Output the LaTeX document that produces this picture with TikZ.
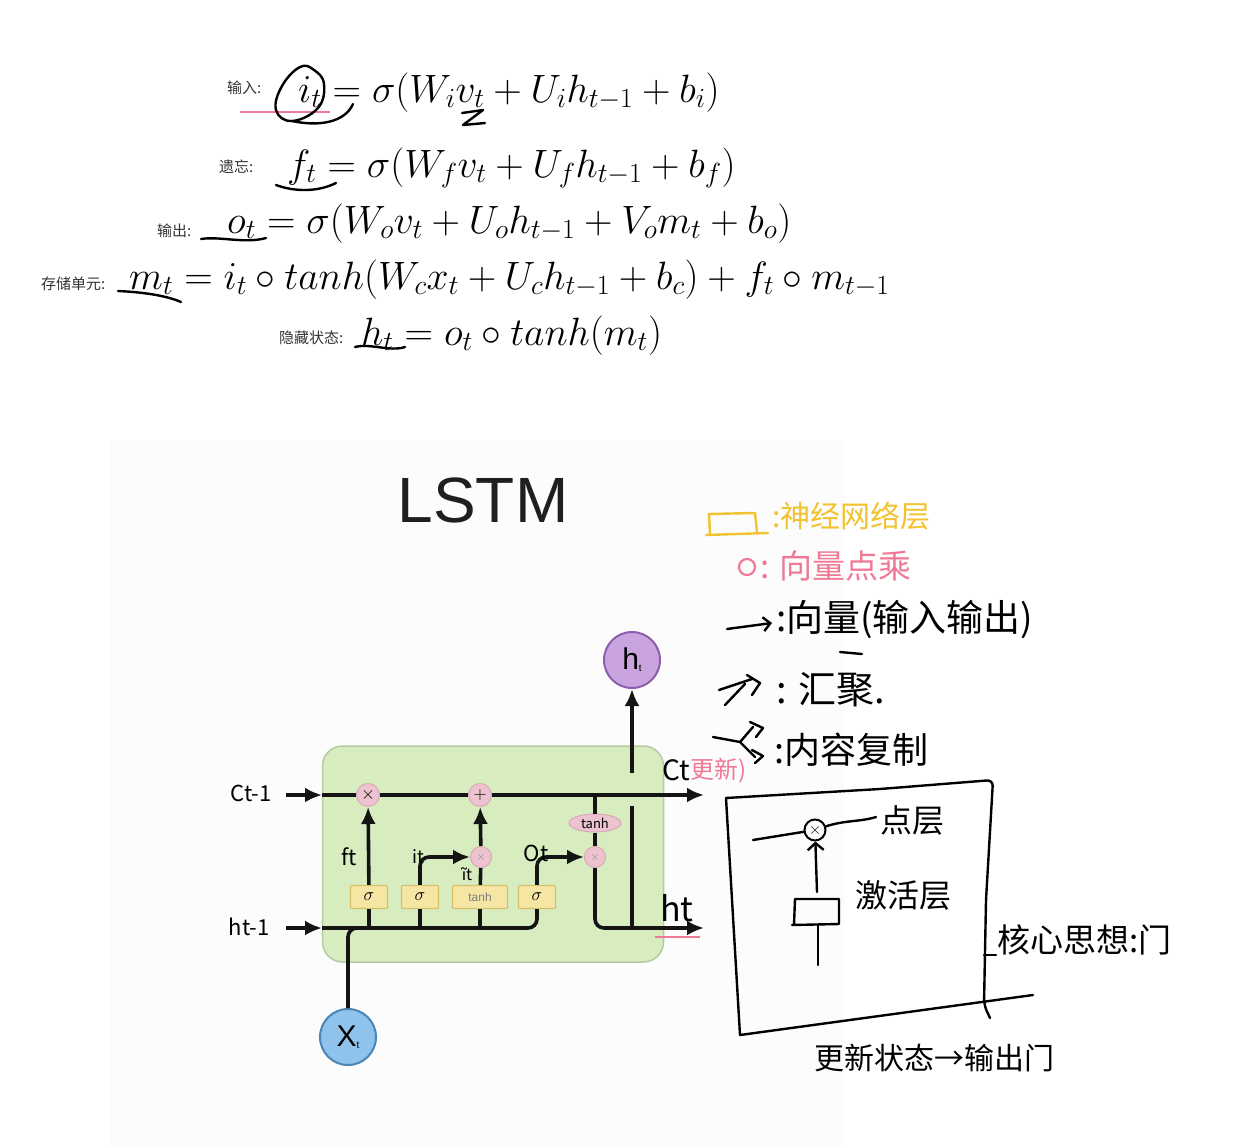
\RequirePackage{fix-cm}
\documentclass[tikz,border=0pt]{standalone}
\usepackage{fontspec}
\newfontfamily\cjk{Noto Sans CJK SC}
\newfontfamily\titlefont{Liberation Sans}
\usetikzlibrary{arrows.meta,positioning,calc,shapes.geometric}

\definecolor{cellfill}{HTML}{D7EDC0}
\definecolor{celledge}{HTML}{B7CBA0}
\definecolor{gatefill}{HTML}{F5E6A3}
\definecolor{gateedge}{HTML}{D6C06C}
\definecolor{opfill}{HTML}{EDC3CF}
\definecolor{opedge}{HTML}{D9A9B8}
\definecolor{xfill}{HTML}{8FC3EC}
\definecolor{xedge}{HTML}{4B85B5}
\definecolor{hfill}{HTML}{C9A4DE}
\definecolor{hedge}{HTML}{8C5EAB}
\definecolor{notepink}{HTML}{F07A96}
\definecolor{noteyellow}{HTML}{F2C230}

\begin{document}
\begin{tikzpicture}[
  x=1pt, y=-1pt,
  flow/.style={line width=3.6pt, draw=black!92, rounded corners=9pt},
  flowarrow/.style={flow, -{Latex[length=17pt, width=15pt]}},
  gate/.style={draw=gateedge, fill=gatefill, line width=1.2pt, rounded corners=1pt, minimum height=23pt, minimum width=37pt, inner sep=0pt, font=\fontsize{18}{18}\selectfont},
  pointop/.style={circle, draw=opedge, fill=opfill, line width=1pt, minimum size=23pt, inner sep=0pt, font=\fontsize{18}{18}\selectfont},
  bigcircle/.style={circle, line width=2pt, minimum size=56pt, inner sep=0pt, font=\titlefont\fontsize{30}{30}\selectfont},
  hand/.style={font=\cjk\fontsize{22}{22}\selectfont, inner sep=0pt},
  pen/.style={line width=2.4pt, draw=black, line cap=round, line join=round},
  note/.style={font=\cjk\fontsize{30}{30}\selectfont, anchor=west, inner sep=0pt},
  eqlabel/.style={font=\cjk\fontsize{15}{15}\selectfont, text=black!80, anchor=west, inner sep=0pt},
  eq/.style={font=\fontsize{39.5}{44}\selectfont, anchor=base west, inner sep=0pt}
]
\useasboundingbox (0,0) rectangle (1235,1146);
\fill[black!1] (110,440) rectangle (845,1146);

% Equations with their labels.
\node[eqlabel] (lbin) at (227,88) {输入:};
\node[eq] (eqin) at (298,102) {$i_t = \sigma(W_iv_t + U_ih_{t-1} + b_i)$};
\node[eqlabel] (lbforget) at (219,167) {遗忘:};
\node[eq] (eqforget) at (287,177) {$f_t = \sigma(W_fv_t + U_fh_{t-1} + b_f)$};
\node[eqlabel] (lbout) at (157,231) {输出:};
\node[eq] (eqout) at (227,233) {$o_t = \sigma(W_ov_t + U_oh_{t-1} + V_om_t + b_o)$};
\node[eqlabel] (lbmem) at (41,284) {存储单元:};
\node[eq] (eqmem) at (129,289) {$m_t = i_t \circ tanh(W_cx_t + U_ch_{t-1} + b_c) + f_t \circ m_{t-1}$};
\node[eqlabel] (lbhid) at (279,338) {隐藏状态:};
\node[eq] (eqhid) at (361,345) {$h_t = o_t \circ tanh(m_t)$};

% Pen marks on the equations.
\draw[notepink, line width=1.4pt] (240,112) -- (330,112);
\draw[pen] plot[smooth cycle, tension=0.7] coordinates {(300,67) (282,86) (276,110) (292,121) (318,108) (324,84) (314,70)};
\draw[pen] (292,121) .. controls (320,127) and (345,122) .. (353,104);
\draw[pen] (462,113) -- (483,110) -- (463,125) -- (485,123);
\draw[pen] (276,185) .. controls (295,192) and (318,192) .. (336,183);
\draw[pen] (201,239) .. controls (220,236) and (245,244) .. (266,238);
\draw[pen] (118,291) .. controls (140,292) and (165,295) .. (181,302);
\draw[pen] (355,347) .. controls (370,343) and (390,352) .. (405,347);

% LSTM cell.
\node[font=\titlefont\fontsize{64}{64}\selectfont, text=black!88] (title) at (483,500) {LSTM};
\node[draw=celledge, fill=cellfill, line width=1.5pt, rounded corners=20pt, minimum width=341pt, minimum height=216pt] (cell) at (493,854) {};

\node[pointop] (fx) at (368,795) {$\times$};
\node[pointop] (add) at (480,795) {$+$};
\node[pointop, minimum size=21pt, font=\fontsize{12}{12}\selectfont, text=black!45] (ix) at (481,857) {$\times$};
\node[pointop, minimum size=21pt, font=\fontsize{12}{12}\selectfont, text=black!45] (ox) at (595,857) {$\times$};
\node[gate] (fg) at (369,897) {$\sigma$};
\node[gate] (ig) at (420,897) {$\sigma$};
\node[gate, minimum width=55pt, text=black!50, font=\titlefont\fontsize{12}{12}\selectfont] (cg) at (480,897) {tanh};
\node[gate] (og) at (537,897) {$\sigma$};
\node[ellipse, draw=opedge, fill=opfill, line width=1pt, minimum width=52pt, minimum height=18pt, inner sep=0pt, font=\cjk\fontsize{13}{13}\selectfont] (tanhc) at (595,823) {tanh};
\node[bigcircle, draw=xedge, fill=xfill] (xt) at (348,1037) {X\raisebox{-2pt}{\fontsize{10}{10}\selectfont t}};
\node[bigcircle, draw=hedge, fill=hfill] (ht) at (632,660) {h\raisebox{-2pt}{\fontsize{10}{10}\selectfont t}};

\coordinate (cin) at (286,795);
\coordinate (cleft) at (322,795);
\coordinate (cout) at (704,795);
\coordinate (hin) at (286,928);
\coordinate (hleft) at (322,928);
\coordinate (hout) at (704,928);
\coordinate (xjoin) at (372,928);
\coordinate (hsplit) at (632,928);
\coordinate (gapbot) at (632,806);
\coordinate (gaptop) at (632,773);

\draw[flowarrow] (cin) -- (cleft);
\draw[flowarrow] (hin) -- (hleft);
\draw[flow] (cleft) -- (fx);
\draw[flow] (fx) -- (add);
\draw[flowarrow] (add) -- (cout);
\draw[flow] (hleft) -| (og.south);
\draw[flow] (xt) |- (xjoin);
\draw[flow] (fg.south) -- (fg.south |- hleft);
\draw[flow] (ig.south) -- (ig.south |- hleft);
\draw[flow] (cg.south) -- (cg.south |- hleft);
\draw[flowarrow] (fg) -- (fx);
\draw[flowarrow] (ig.north) |- (ix);
\draw[flow] (cg) -- (ix);
\draw[flowarrow] (ix) -- (add);
\draw[flowarrow] (og.north) |- (ox);
\draw[flow] (tanhc.north) -- (tanhc.north |- cleft);
\draw[flow] (tanhc) -- (ox);
\draw[flowarrow] (ox.south) |- (hout);
\draw[flow] (hsplit) -- (gapbot);
\draw[flowarrow] (gaptop) -- (ht);

% Handwritten labels on the cell.
\node[hand, anchor=east] (lbcin) at (272,793) {Ct-1};
\node[hand, anchor=east] (lbhin) at (270,927) {ht-1};
\node[hand] (lbft) at (349,857) {ft};
\node[hand, font=\cjk\fontsize{18}{18}\selectfont] (lbit) at (418,857) {it};
\node[hand, font=\cjk\fontsize{16}{16}\selectfont] (lbct) at (467,874) {ĩt};
\node[hand] (lbot) at (536,853) {Ot};
\node[hand, anchor=west, font=\cjk\fontsize{28}{28}\selectfont] (lbcout) at (662,770) {Ct};
\node[anchor=west, inner sep=0pt, text=notepink, font=\cjk\fontsize{24}{24}\selectfont] (lbnew) at (690,771) {更新)};
\node[hand, anchor=west, font=\cjk\fontsize{34}{34}\selectfont] (lbhout) at (660,908) {ht};
\draw[notepink, line width=1.4pt] (655,937) -- (700,937);

% Legend notes.
\draw[noteyellow, line width=2.4pt, line cap=round] (710,534) -- (709,514) -- (755,513) -- (757,532) (706,535) -- (768,533);
\node[note, text=noteyellow] (nlayer) at (772,516) {:神经网络层};
\draw[notepink, line width=2.2pt] (747,567) circle (8pt);
\node[note, text=notepink, font=\cjk\fontsize{33}{33}\selectfont] (nmul) at (760,566) {: 向量点乘};
\draw[pen, -{Straight Barb[length=7pt, width=14pt]}] (727,629) -- (772,623);
\node[note, font=\cjk\fontsize{37}{37}\selectfont] (nvec) at (776,620) {:向量(输入输出)};
\draw[pen] (840,652) -- (862,654);
\draw[pen] (719,690) -- (752,679) (725,705) -- (745,684) (747,675) -- (760,683) -- (752,695);
\node[note, font=\cjk\fontsize{38}{38}\selectfont] (nmerge) at (776,690) {: 汇聚.};
\draw[pen] (713,737) -- (740,742) -- (753,727) (740,742) -- (755,757) (750,722) -- (763,728) -- (756,737) (752,750) -- (763,756) -- (755,763);
\node[note, font=\cjk\fontsize{36}{36}\selectfont] (ncopy) at (774,750) {:内容复制};

% Gate sketch.
\draw[pen, rounded corners=6pt] (726,798) -- (880,789) -- (993,780) -- (986,900) -- (984,1005) -- (990,1018);
\draw[pen] (726,798) -- (740,1035) -- (1033,995);
\draw[pen] (984,955) -- (996,955);
\node[draw, circle, line width=2pt, minimum size=21pt, inner sep=0pt, font=\fontsize{16}{16}\selectfont] (sx) at (815,830) {$\times$};
\draw[pen] (753,840) -- (sx);
\draw[pen] (sx) .. controls (845,820) and (860,822) .. (876,817);
\node[note, font=\cjk\fontsize{32}{32}\selectfont] (nptlayer) at (880,820) {点层};
\draw[pen] (794,925) -- (795,899) -- (839,899) -- (839,924) -- (792,925);
\coordinate (sbot) at (818,965);
\draw[pen] (818,925) -- (sbot);
\draw[pen, -{Straight Barb[length=7pt, width=16pt]}] (817,892) -- (sx);
\node[note, font=\cjk\fontsize{32}{32}\selectfont] (nact) at (855,895) {激活层};
\node[note, font=\cjk\fontsize{33}{33}\selectfont] (ncore) at (997,940) {核心思想:门};
\node[note, font=\cjk\fontsize{30}{30}\selectfont] (nupdate) at (814,1058) {更新状态→输出门};
\end{tikzpicture}
\end{document}
